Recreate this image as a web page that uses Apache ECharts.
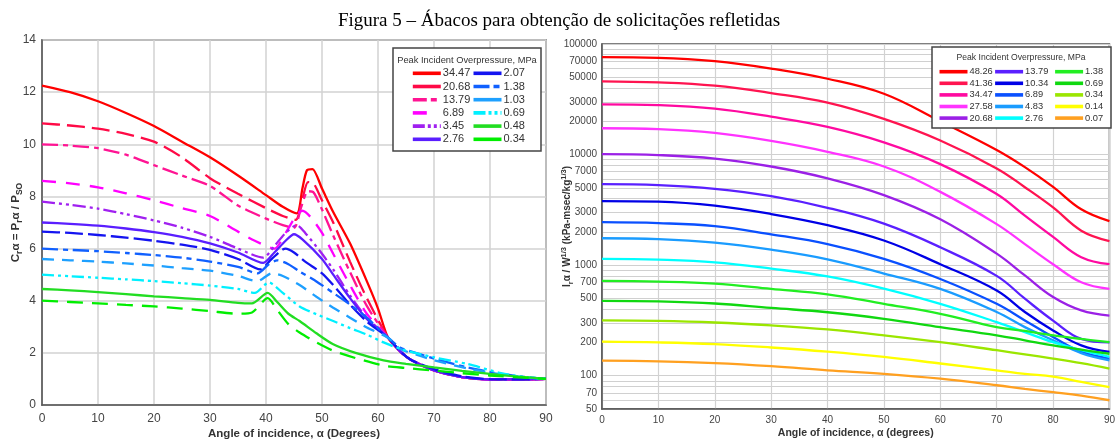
<!DOCTYPE html>
<html><head><meta charset="utf-8">
<script src="https://cdn.jsdelivr.net/npm/echarts@6/dist/echarts.min.js"></script>
<style>html,body{margin:0;padding:0;background:#fff}#c{width:1118px;height:445px}</style>
</head><body><div id="c"></div>
<script>
// ---------- LEFT CHART: reflected pressure coefficient (alpha, C) ----------
const L_34_47 = [[0,12.25],[5,12.0],[10,11.65],[15,11.2],[20,10.7],[25,10.1],[30,9.5],[35,8.8],[40,8.05],[43,7.6],[45.5,7.35],[46.5,8.3],[47.3,9.0],[48.3,9.05],[50,8.3],[52,7.4],[55,6.2],[58,4.75],[60,3.7],[61.8,2.58],[64,2.05],[66,1.72],[70,1.33],[75,1.07],[80,0.98],[85,0.98],[90,1.0]];
const L_20_68 = [[0,10.8],[5,10.72],[10,10.6],[15,10.4],[20,10.1],[25,9.5],[30,8.7],[35,8.1],[40,7.55],[43,7.25],[45.3,7.1],[46.5,7.9],[47.5,8.55],[48.5,8.5],[50,7.85],[52,7.0],[55,5.5],[58,4.1],[61.8,2.58],[64,2.05],[66,1.72],[70,1.33],[75,1.07],[80,0.98],[85,0.98],[90,1.0]];
const L_13_79 = [[0,10.0],[5,9.95],[10,9.85],[15,9.6],[20,9.2],[25,8.8],[30,8.4],[35,7.65],[40,7.15],[43,6.9],[45,6.8],[46.3,7.6],[47.5,8.2],[48.5,8.15],[50,7.5],[52,6.5],[55,5.1],[58,3.8],[61.8,2.58],[64,2.05],[66,1.72],[70,1.33],[75,1.07],[80,0.98],[85,0.98],[90,1.0]];
const L_6_89 = [[0,8.6],[5,8.5],[10,8.35],[15,8.12],[20,7.85],[25,7.55],[30,7.25],[35,6.65],[38,6.3],[41.5,6.0],[43.5,6.6],[45.5,7.3],[46.5,7.45],[48,7.2],[50,6.6],[52,5.8],[55,4.6],[58,3.5],[61.8,2.58],[64,2.05],[66,1.72],[70,1.33],[75,1.07],[80,0.98],[85,0.98],[90,1.0]];
const L_3_45 = [[0,7.8],[5,7.68],[10,7.53],[15,7.32],[20,7.08],[25,6.8],[30,6.45],[35,6.0],[39.5,5.65],[41.5,6.1],[43.5,6.6],[45.5,6.9],[47,6.6],[50,5.8],[52,5.2],[55,4.2],[58,3.35],[61.8,2.58],[64,2.05],[66,1.72],[70,1.33],[75,1.07],[80,0.98],[85,0.98],[90,1.0]];
const L_2_76 = [[0,7.0],[5,6.95],[10,6.88],[15,6.77],[20,6.63],[25,6.45],[30,6.2],[35,5.85],[39.5,5.45],[41.5,5.85],[43.5,6.3],[45,6.55],[46.5,6.35],[50,5.6],[52,5.0],[55,4.1],[58,3.3],[61.8,2.58],[64,2.05],[66,1.72],[70,1.33],[75,1.07],[80,0.98],[85,0.98],[90,1.0]];
const L_2_07 = [[0,6.65],[5,6.6],[10,6.52],[15,6.42],[20,6.3],[25,6.15],[30,5.95],[35,5.6],[39,5.2],[41,5.6],[43.5,6.0],[45,5.85],[47,5.5],[50,5.05],[52,4.6],[55,3.85],[58,3.2],[61.8,2.58],[64,2.05],[66,1.72],[70,1.38],[75,1.1],[80,0.99],[85,0.98],[90,1.0]];
const L_1_38 = [[0,6.0],[5,5.95],[10,5.9],[15,5.83],[20,5.75],[25,5.65],[30,5.5],[35,5.3],[38.5,5.05],[40.5,5.4],[42,5.55],[44,5.4],[46,5.12],[49,4.74],[52,4.3],[55,3.85],[58,3.35],[61.8,2.58],[64,2.2],[67,1.98],[70,1.78],[76,1.44],[82,1.19],[86,1.08],[90,1.0]];
const L_1_03 = [[0,5.6],[5,5.55],[10,5.5],[15,5.43],[20,5.35],[25,5.25],[30,5.15],[35,4.95],[38.5,4.75],[41,5.05],[43,4.95],[46,4.6],[49,4.15],[52,3.73],[55,3.35],[58,2.97],[61.8,2.58],[64,2.15],[67,1.92],[70,1.72],[76,1.4],[82,1.17],[86,1.07],[90,1.0]];
const L_0_69 = [[0,5.0],[5,4.94],[10,4.88],[15,4.82],[20,4.75],[25,4.67],[30,4.58],[35,4.45],[38,4.3],[40.5,4.7],[43,4.3],[46,3.78],[49,3.48],[52,3.22],[55,2.95],[58,2.7],[61,2.4],[64,2.15],[67,1.98],[70,1.83],[76,1.57],[82,1.22],[86,1.08],[90,1.0]];
const L_0_48 = [[0,4.45],[5,4.4],[10,4.33],[15,4.25],[20,4.17],[25,4.1],[30,4.03],[35,3.92],[37.5,3.9],[40.3,4.3],[42,3.95],[44,3.5],[46,3.22],[49,2.75],[52,2.33],[56,2.0],[61,1.71],[65,1.58],[70,1.44],[75,1.31],[80,1.19],[85,1.09],[90,1.0]];
const L_0_34 = [[0,4.0],[5,3.95],[10,3.9],[15,3.84],[20,3.78],[25,3.7],[30,3.6],[35,3.5],[37.5,3.55],[40.3,4.1],[42,3.65],[44,3.1],[46,2.78],[49,2.4],[52,2.08],[56,1.8],[61,1.51],[65,1.42],[70,1.32],[75,1.22],[80,1.13],[85,1.06],[90,1.0]];
const leftNames = ['34.47','20.68','13.79','6.89','3.45','2.76','2.07','1.38','1.03','0.69','0.48','0.34'];
const leftData = [L_34_47,L_20_68,L_13_79,L_6_89,L_3_45,L_2_76,L_2_07,L_1_38,L_1_03,L_0_69,L_0_48,L_0_34];
const leftColors = ['#ff0000','#ff0a46','#ff1493','#ff00ff','#a020f0','#5a1eff','#1414f0','#1060ff','#1ea0ff','#00f0ff','#22dd22','#00ee00'];
const leftDash = ['solid',[18,7],[16,5,5,5],[14,10],[13,4,3,4,3,4],'solid',[18,5],[16,5,5,5],[12,8],[12,4,3,4,3,4],'solid',[16,9]];
const leftLegendDash = ['solid','solid',[14,4,6,4],[14,30],[12,3,3,3,3,3],'solid','solid',[16,4,6,4],'solid',[12,3,3,3,3,3],'solid','solid'];

// ---------- RIGHT CHART: reflected impulse (alpha grid + values) ----------
const alphaR = [0,10,20,30,40,50,60,70,75,80,85,90];
const R_48_26 = [76000,75000,70000,60000,48500,35500,20000,11000,7700,5100,3200,2500];
const R_41_36 = [46000,45000,42000,36000,29500,21000,13400,7500,5070,3330,2050,1650];
const R_34_47 = [28500,28000,26000,22000,17800,12900,8200,4400,2800,1800,1180,1020];
const R_27_58 = [17300,17000,15700,13300,10600,7800,4600,2350,1550,1020,700,610];
const R_20_68 = [10100,9900,9200,7800,6100,4300,2600,1270,807,515,390,350];
const R_13_79 = [5400,5300,4900,4200,3300,2370,1450,800,497,315,215,200];
const R_10_34 = [3800,3750,3450,2900,2300,1670,1020,590,377,257,188,164];
const R_6_89 = [2450,2400,2250,1900,1550,1140,750,447,316,224,165,143];
const R_4_83 = [1750,1720,1600,1380,1130,840,610,377,275,209,160,138];
const R_2_76 = [1140,1120,1060,930,790,613,447,305,248,201,170,148];
const R_1_38 = [720,710,680,610,545,447,363,275,254,232,215,201];
const R_0_69 = [475,470,450,410,375,327,275,232,209,188,172,158];
const R_0_34 = [316,313,303,285,262,232,201,170,156,143,130,116];
const R_0_14 = [203,200,193,180,165,148,129,112,104,98,88,79];
const R_0_07 = [137,135,130,122,112,104,94,82,76,71,66,60];
const rightNames = ['48.26','41.36','34.47','27.58','20.68','13.79','10.34','6.89','4.83','2.76','1.38','0.69','0.34','0.14','0.07'];
const rightData = [R_48_26,R_41_36,R_34_47,R_27_58,R_20_68,R_13_79,R_10_34,R_6_89,R_4_83,R_2_76,R_1_38,R_0_69,R_0_34,R_0_14,R_0_07];
const rightColors = ['#ff0000','#ff1450','#ff0aa0','#ff33ff','#9b20e6','#5a20ff','#0000e6','#0a50ff','#1a9cff','#00ffff','#22ee22','#10d810','#9be600','#ffff00','#ffa020'];
const rightLabelTicks = [50,70,100,200,300,500,700,1000,2000,3000,5000,7000,10000,20000,30000,50000,70000,100000];

// all log grid values 1..9 x 10^n within [50, 100000]
const rightGridTicks = [];
[10,100,1000,10000].forEach(p => { for (let k = 1; k <= 9; k++) { const v = k*p; if (v >= 50) rightGridTicks.push(v); } });
rightGridTicks.push(100000);

const FONT = 'Liberation Sans';
const chart = echarts.init(document.getElementById('c'), null, {renderer:'canvas'});

const series = [];
leftNames.forEach((n,i) => series.push({
  name:'L'+n, type:'line', xAxisIndex:0, yAxisIndex:0, data:leftData[i],
  symbol:'none', smooth:0.25, z:3,
  lineStyle:{color:leftColors[i], width:2.3, type:leftDash[i]}, itemStyle:{color:leftColors[i]}
}));
rightNames.forEach((n,i) => series.push({
  name:'R'+n, type:'line', xAxisIndex:1, yAxisIndex:2, data:alphaR.map((a,j)=>[a, rightData[i][j]]),
  symbol:'none', smooth:0.4, z:3,
  lineStyle:{color:rightColors[i], width:2.3}, itemStyle:{color:rightColors[i]}
}));

function legendCol(names, prefix, left, top, rowH, gap, fs, iw, dashes) {
  return {
    orient:'vertical', left:left, top:top, padding:0, itemGap:gap, itemWidth:iw, itemHeight:rowH,
    selectedMode:false, z:20,
    itemStyle:{opacity:0},
    lineStyle:{width:3.6},
    data:names.map((n,i) => dashes ? {name:prefix+n, lineStyle:{type:dashes[i], width:3.6}} : {name:prefix+n}),
    formatter: s => s.slice(1),
    textStyle:{fontFamily:FONT, fontSize:fs, color:'#333', lineHeight:rowH, padding:[0,0,0,-3]}
  };
}

const axisLab = (fs) => ({fontFamily:FONT, fontSize:fs, color:'#444'});
const option = {
  animation:false,
  backgroundColor:'#fff',
  title:{text:'Figura 5 – Ábacos para obtenção de solicitações refletidas', left:'center', top:7,
    textStyle:{fontFamily:'Liberation Serif', fontSize:19, fontWeight:'normal', color:'#000'}},
  grid:[
    {left:42, top:40, width:504, height:368, show:true, borderColor:'#555', borderWidth:1.5, backgroundColor:'#fff'},
    {left:602, top:44, width:508, height:365, show:true, borderColor:'#555', borderWidth:1.5, backgroundColor:'#fff'}
  ],
  xAxis:[
    {gridIndex:0, type:'value', min:0, max:90, interval:10,
      axisLine:{show:true, lineStyle:{color:'#555', width:1.5}}, axisTick:{show:false},
      axisLabel:Object.assign(axisLab(12), {margin:8}),
      splitLine:{show:true, lineStyle:{color:'#d2d2d2', width:1.5}},
      name:'Angle of incidence, α (Degrees)', nameLocation:'middle', nameGap:23, nameMoveOverlap:false,
      nameTextStyle:{fontFamily:FONT, fontSize:11.5, fontWeight:'bold', color:'#333'}},
    {gridIndex:1, type:'value', min:0, max:90, interval:10,
      axisLine:{show:true, lineStyle:{color:'#555', width:1.5}}, axisTick:{show:false},
      axisLabel:Object.assign(axisLab(10), {margin:6}),
      splitLine:{show:true, lineStyle:{color:'#d2d2d2', width:1.2}},
      name:'Angle of incidence, α (degrees)', nameLocation:'middle', nameGap:19, nameMoveOverlap:false,
      nameTextStyle:{fontFamily:FONT, fontSize:10.5, fontWeight:'bold', color:'#333'}}
  ],
  yAxis:[
    {gridIndex:0, type:'value', min:0, max:14, interval:2,
      axisLine:{show:true, lineStyle:{color:'#555', width:1.5}}, axisTick:{show:false},
      axisLabel:Object.assign(axisLab(12), {margin:6}),
      splitLine:{show:true, lineStyle:{color:'#d2d2d2', width:1.5}},
      name:'{b|C}{s|r}{b|α = P}{s|r}{b|α / P}{s|SO}', nameLocation:'middle', nameRotate:90, nameGap:18, nameMoveOverlap:false,
      nameTextStyle:{rich:{
        b:{fontFamily:FONT, fontSize:11.5, fontWeight:'bold', color:'#333', lineHeight:16},
        s:{fontFamily:FONT, fontSize:8.5, fontWeight:'bold', color:'#333', verticalAlign:'bottom', lineHeight:16}
      }}},
    {gridIndex:1, type:'value', min:Math.log10(50), max:5,
      axisLine:{show:true, lineStyle:{color:'#555', width:1.5}},
      axisTick:{show:false, customValues:rightGridTicks.map(v => Math.log10(v))},
      axisLabel:Object.assign(axisLab(10), {margin:5, customValues:rightLabelTicks.map(v => Math.log10(v)),
        formatter: v => String(Math.round(Math.pow(10, v)))}),
      splitLine:{show:true, lineStyle:{color:'#d0d0d0', width:1.2}},
      name:'{b|I}{s|r}{b|α / W}{p|1/3}{b| (kPa-msec/kg}{p|1/3}{b|)}', nameLocation:'middle', nameRotate:90, nameGap:27, nameMoveOverlap:false,
      nameTextStyle:{rich:{
        b:{fontFamily:FONT, fontSize:10, fontWeight:'bold', color:'#333', lineHeight:15},
        s:{fontFamily:FONT, fontSize:7.5, fontWeight:'bold', color:'#333', verticalAlign:'bottom', lineHeight:15},
        p:{fontFamily:FONT, fontSize:7.5, fontWeight:'bold', color:'#333', verticalAlign:'top', lineHeight:15}
      }}},
    {gridIndex:1, type:'log', logBase:10, min:50, max:100000, show:false,
      axisLine:{show:false}, axisLabel:{show:false}, splitLine:{show:false}, axisTick:{show:false}}
  ],
  legend:[
    legendCol(leftNames.slice(0,6), 'L', 411, 67.3, 12, 1.2, 11, 28, leftLegendDash.slice(0,6)),
    legendCol(leftNames.slice(6), 'L', 471.7, 67.3, 12, 1.2, 11, 28, leftLegendDash.slice(6)),
    legendCol(rightNames.slice(0,5), 'R', 937.7, 66.2, 11, 0.6, 9.3, 28),
    legendCol(rightNames.slice(5,10), 'R', 993.3, 66.2, 11, 0.6, 9.3, 28),
    legendCol(rightNames.slice(10), 'R', 1053.3, 66.2, 11, 0.6, 9.3, 28)
  ],
  graphic:[
    {type:'rect', z:15, shape:{x:393, y:48, width:148, height:103},
      style:{fill:'#fff', stroke:'#444', lineWidth:1.5}},
    {type:'text', z:16, x:467, y:56, style:{text:'Peak Incident Overpressure, MPa', fontFamily:FONT, fontSize:9.3, fill:'#333', align:'center'}},
    {type:'rect', z:15, shape:{x:932, y:47, width:179, height:81},
      style:{fill:'#fff', stroke:'#444', lineWidth:1.5}},
    {type:'text', z:16, x:1021, y:53, style:{text:'Peak Incident Overpressure, MPa', fontFamily:FONT, fontSize:8.6, fill:'#333', align:'center'}}
  ],
  series:series
};
chart.setOption(option);
</script></body></html>
